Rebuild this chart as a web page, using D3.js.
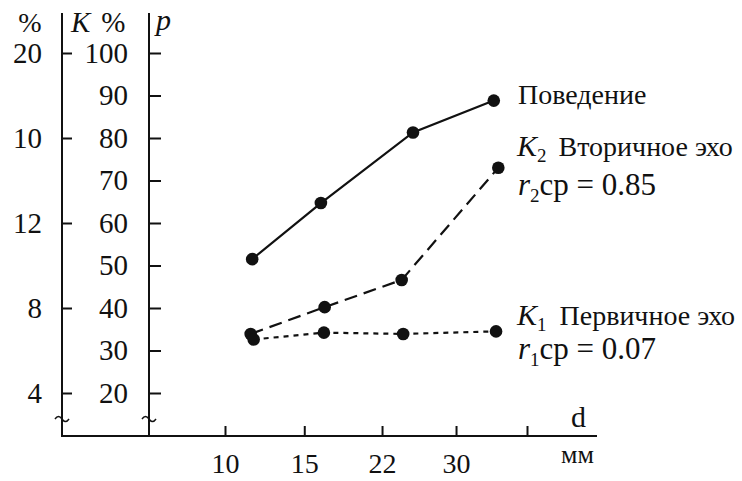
<!DOCTYPE html>
<html><head><meta charset="utf-8">
<script src="https://cdn.jsdelivr.net/npm/d3@7"></script>
</head>
<body style="margin:0;background:#fff"><svg id="c" width="742" height="481"></svg>
<script>
// ---- data ----
const xTickLabels = ["10", "15", "22", "30", ""];           // d, мм
const xTickPos = [0, 1.05, 2.08, 3.06, 4];                   // tick positions on the drawing's d scale
const pTicks = [20, 30, 40, 50, 60, 70, 80, 90, 100];        // p axis
const kTickValues = [20, 40, 60, 80, 100];                   // positions of "%" axis ticks
const kTickLabels = ["4", "8", "12", "10", "20"];            // as printed
const behaviorX = [0.36, 1.27, 2.49, 3.56];
const behaviorY = [51.5, 64.7, 81.3, 88.8];
const k2X = [0.34, 1.32, 2.34, 3.62];
const k2Y = [33.9, 40.2, 46.6, 73.0];
const k1X = [0.38, 1.31, 2.36, 3.59];
const k1Y = [32.6, 34.2, 33.9, 34.5];

(function () {
const FF = '"Liberation Serif"';
const INK = "#111";
const svg = d3.select("#c");
const ax1 = 62, ax2 = 149, base = 436, xEnd = 597, yTop = 13;
const x = d3.scaleLinear().domain([0, 4]).range([225, 527]);
const y = d3.scaleLinear().domain([20, 100]).range([393, 53]);

function txt(xx, yy, size) {
  return svg.append("text").attr("x", xx).attr("y", yy).attr("font-size", size)
    .attr("font-family", FF).attr("fill", INK);
}

// axis lines
const g = svg.append("g").attr("stroke", INK).attr("stroke-width", 2).attr("fill", "none");
g.append("line").attr("x1", ax1).attr("x2", ax1).attr("y1", yTop).attr("y2", base);
g.append("line").attr("x1", ax2).attr("x2", ax2).attr("y1", yTop).attr("y2", base);
g.append("line").attr("x1", ax1 - 1).attr("x2", xEnd).attr("y1", base).attr("y2", base);

// break marks
[ax1, ax2].forEach(cx => {
  svg.append("path")
    .attr("d", `M${cx-7},${419} q3.5,-5 7,0 t7,0`)
    .attr("fill", "none").attr("stroke", INK).attr("stroke-width", 1.5);
});

// left "%" axis
const a1 = svg.append("g").attr("transform", `translate(${ax1},0)`)
  .call(d3.axisLeft(y).tickValues(kTickValues).tickSizeInner(-10).tickSizeOuter(0).tickPadding(20)
    .tickFormat((d, i) => kTickLabels[i]));
// p axis
const a2 = svg.append("g").attr("transform", `translate(${ax2},0)`)
  .call(d3.axisLeft(y).tickValues(pTicks).tickSizeInner(-12).tickSizeOuter(0).tickPadding(21));
// x axis
const a3 = svg.append("g").attr("transform", `translate(0,${base})`)
  .call(d3.axisTop(x).tickValues(xTickPos).tickSizeInner(10).tickSizeOuter(0)
    .tickFormat((d, i) => xTickLabels[i]));
a3.selectAll(".tick text").attr("y", 37).attr("dy", 0);

[a1, a2, a3].forEach(a => {
  a.attr("font-family", FF).attr("font-size", 29);
  a.select(".domain").remove();
  a.selectAll(".tick line").attr("stroke", INK).attr("stroke-width", 2);
  a.selectAll(".tick text").attr("fill", INK).attr("font-family", FF).attr("font-size", 29);
});
a3.selectAll(".tick text").attr("font-size", 28);

// header labels
txt(30, 32, 28).attr("text-anchor", "middle").text("%");
const kh = txt(71, 32, 29);
kh.append("tspan").attr("font-style", "italic").text("K");
kh.append("tspan").attr("dx", 11).text("%");
txt(156, 30, 30).attr("font-style", "italic").text("p");
txt(571, 427, 30).text("d");
txt(561, 463, 26).text("мм");

// series
const line = d3.line().x(d => x(d[0])).y(d => y(d[1]));
const series = [
  {xs: behaviorX, ys: behaviorY, dash: null},
  {xs: k2X, ys: k2Y, dash: "13,7"},
  {xs: k1X, ys: k1Y, dash: "5,5"}
];
series.forEach(s => {
  const pts = s.xs.map((v, i) => [v, s.ys[i]]);
  svg.append("path").datum(pts).attr("d", line)
    .attr("fill", "none").attr("stroke", INK).attr("stroke-width", 2.2)
    .attr("stroke-dasharray", s.dash);
  svg.selectAll(null).data(pts).enter().append("circle")
    .attr("cx", d => x(d[0])).attr("cy", d => y(d[1])).attr("r", 6.3).attr("fill", INK);
});

// annotations
const fs = 28;
txt(518, 104, fs).text("Поведение");
function kLabel(yy, sub, t2, gap) {
  const t = txt(517, yy, 30);
  t.append("tspan").attr("font-style", "italic").text("K");
  t.append("tspan").attr("font-size", 19).attr("dy", 6).text(sub);
  t.append("tspan").attr("dy", -6).attr("dx", gap).attr("font-size", fs).text(t2);
}
function rLabel(yy, sub, t2) {
  const t = txt(518, yy, 31);
  t.append("tspan").attr("font-style", "italic").text("r");
  t.append("tspan").attr("font-size", 19).attr("dy", 7).text(sub);
  t.append("tspan").attr("dy", -7).text(t2);
}
kLabel(156, "2", "Вторичное эхо", 12);
rLabel(195, "2", "cp = 0.85");
kLabel(325, "1", "Первичное эхо", 13);
rLabel(359, "1", "cp = 0.07");
})();
</script></body></html>
